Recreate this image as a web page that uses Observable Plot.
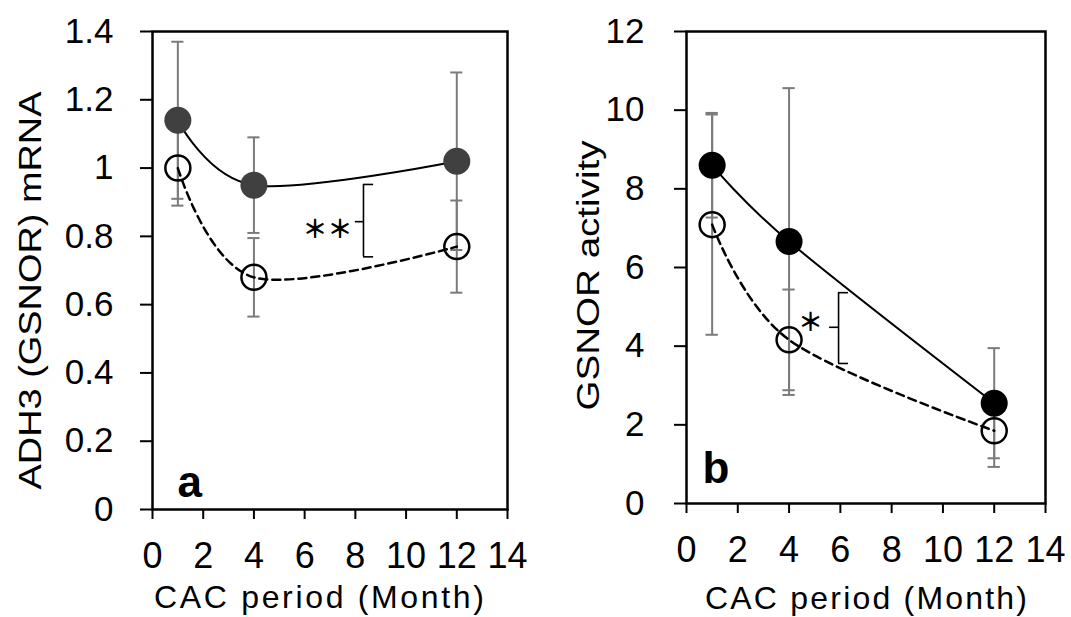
<!DOCTYPE html>
<html><head><meta charset="utf-8">
<script src="https://cdn.jsdelivr.net/npm/d3@7"></script>
<script src="https://cdn.jsdelivr.net/npm/@observablehq/plot@0.6"></script>
<style>
body{margin:0;background:#fff;}
#wrap{position:relative;width:1071px;height:617px;overflow:hidden;background:#fff;}
#wrap > svg{position:absolute;top:0;}
</style></head><body><div id="wrap"></div>
<script>
// ---- data ----
const months = [1, 4, 12];
// panel a : ADH3 (GSNOR) mRNA
const aFilled = [1.14, 0.95, 1.02];
const aFilledErr = [0.23, 0.14, 0.26];
const aOpen = [1.00, 0.68, 0.77];
const aOpenErr = [0.11, 0.115, 0.135];
// panel b : GSNOR activity
const bFilled = [8.6, 6.66, 2.55];
const bFilledErr = [1.33, 3.9, 1.4];
const bOpen = [7.09, 4.16, 1.85];
const bOpenErr = [2.8, 1.28, 0.92];

const xTicks = [0, 2, 4, 6, 8, 10, 12, 14];
const aYTicks = [0, 0.2, 0.4, 0.6, 0.8, 1, 1.2, 1.4];
const bYTicks = [0, 2, 4, 6, 8, 10, 12];
const aYTickLabels = ["0", "0.2", "0.4", "0.6", "0.8", "1", "1.2", "1.4"];
const bYTickLabels = ["0", "2", "4", "6", "8", "10", "12"];

const xTitle = "CAC period (Month)";
const aYTitle = "ADH3 (GSNOR) mRNA";
const bYTitle = "GSNOR activity";
const aPanelLetter = "a";
const bPanelLetter = "b";

// significance brackets (x of vertical, lower, upper, middle)
const aSig = [{x: 8.32, y1: 0.74, y2: 0.952, ym: 0.843, tx: 6.9, ty: 0.82, label: "＊＊"}];
const bSig = [{x: 5.93, y1: 3.56, y2: 5.36, ym: 4.48, tx: 4.84, ty: 4.6, label: "＊"}];

// ---- drawing ----
function panel(cfg) {
  const filled = months.map((m, i) => ({x: m, y: cfg.filled[i], e: cfg.filledErr[i]}));
  const open = months.map((m, i) => ({x: m, y: cfg.open[i], e: cfg.openErr[i]}));
  const both = open.concat(filled);
  const cap = 0.24;
  const grey = "#7b7b7b";
  const svg = Plot.plot({
    width: cfg.width, height: 617,
    marginLeft: cfg.ml, marginRight: cfg.mr, marginTop: 31, marginBottom: cfg.mb,
    style: {fontFamily: "'Liberation Sans', Arial, sans-serif", color: "black", background: "white"},
    x: {domain: [0, 14]},
    y: {domain: cfg.yDomain},
    marks: [
      Plot.ruleX(both, {x: "x", y1: d => d.y - d.e, y2: d => d.y + d.e, stroke: grey, strokeWidth: 2}),
      Plot.ruleY(both, {y: d => d.y + d.e, x1: d => d.x - cap, x2: d => d.x + cap, stroke: grey, strokeWidth: 2}),
      Plot.ruleY(both, {y: d => d.y - d.e, x1: d => d.x - cap, x2: d => d.x + cap, stroke: grey, strokeWidth: 2}),
      Plot.line(open, {x: "x", y: "y", curve: "cardinal", stroke: "black", strokeWidth: 2.5, strokeDasharray: "8,5"}),
      Plot.line(filled, {x: "x", y: "y", curve: "cardinal", stroke: "black", strokeWidth: 2}),
      Plot.dot(open, {x: "x", y: "y", r: 12.5, stroke: "black", strokeWidth: 2.5, fill: "none"}),
      Plot.dot(filled, {x: "x", y: "y", r: 13.5, fill: cfg.filledColor, stroke: "none"}),
      // bracket
      Plot.ruleX(cfg.sig, {x: "x", y1: "y1", y2: "y2", stroke: "black", strokeWidth: 1.6}),
      Plot.ruleY(cfg.sig, {y: "y1", x1: "x", x2: d => d.x + cfg.serif, stroke: "black", strokeWidth: 1.6}),
      Plot.ruleY(cfg.sig, {y: "y2", x1: "x", x2: d => d.x + cfg.serif, stroke: "black", strokeWidth: 1.6}),
      Plot.ruleY(cfg.sig, {y: "ym", x1: "x", x2: d => d.x - cfg.nub, stroke: "black", strokeWidth: 1.6}),
      Plot.text(cfg.sig, {x: "tx", y: "ty", text: "label", fontSize: 25, fontWeight: "bold", fontFamily: "'Noto Sans CJK JP', sans-serif", fill: "black"}),
      // panel letter
      Plot.text([cfg.letter], {x: cfg.letterX, y: cfg.letterY, text: d => d, textAnchor: "start", lineAnchor: "bottom", fontSize: 44, fontWeight: "bold", fill: "black"}),
      Plot.frame({stroke: "black", strokeWidth: 2.5}),
      Plot.axisX({ticks: xTicks, tickSize: 10, tickPadding: 23, fontSize: 36, strokeWidth: 2, label: null}),
      Plot.axisY({ticks: cfg.yTicks, tickFormat: (d, i) => cfg.yTickLabels[cfg.yTicks.indexOf(d)], tickSize: 12, tickPadding: cfg.tp, fontSize: 35, strokeWidth: 2, label: null}),
      // axis titles
      Plot.text([cfg.yTitle], {frameAnchor: "left", text: d => d, rotate: -90, lineAnchor: "middle", textAnchor: "middle", fontSize: 32, dx: cfg.ylDx, dy: cfg.ylDy, fill: "black"}),
      Plot.text([xTitle], {frameAnchor: "bottom", text: d => d, lineAnchor: "middle", textAnchor: "middle", fontSize: 32, dx: cfg.xlDx, dy: cfg.xlDy, fill: "black"})
    ]
  });
  svg.querySelectorAll("text").forEach(t => {
    if (t.textContent === cfg.yTitle) { t.setAttribute("textLength", cfg.ylLen); t.setAttribute("lengthAdjust", "spacingAndGlyphs"); }
    if (t.textContent === xTitle) { t.setAttribute("textLength", cfg.xlLen); t.setAttribute("lengthAdjust", "spacing"); }
  });
  svg.style.left = cfg.left + "px";
  return svg;
}

const wrap = document.getElementById("wrap");
wrap.appendChild(panel({
  left: 0, width: 535, ml: 152, mr: 28, mb: 108, tp: 27,
  yDomain: [0, 1.4], yTicks: aYTicks, yTickLabels: aYTickLabels,
  filled: aFilled, filledErr: aFilledErr, open: aOpen, openErr: aOpenErr,
  filledColor: "#404040", sig: aSig, serif: 0.4, nub: 0.32,
  letter: aPanelLetter, letterX: 0.99, letterY: 0.038,
  yTitle: aYTitle, ylDx: -122, ylDy: 20, ylLen: 398,
  xlDx: -11, xlDy: 88, xlLen: 330
}));
wrap.appendChild(panel({
  left: 535, width: 536, ml: 151, mr: 26, mb: 114, tp: 30,
  yDomain: [0, 12], yTicks: bYTicks, yTickLabels: bYTickLabels,
  filled: bFilled, filledErr: bFilledErr, open: bOpen, openErr: bOpenErr,
  filledColor: "#000000", sig: bSig, serif: 0.39, nub: 0.35,
  letter: bPanelLetter, letterX: 0.62, letterY: 0.51,
  yTitle: bYTitle, ylDx: -98, ylDy: 8, ylLen: 270,
  xlDx: 0, xlDy: 95, xlLen: 322
}));
</script></body></html>
